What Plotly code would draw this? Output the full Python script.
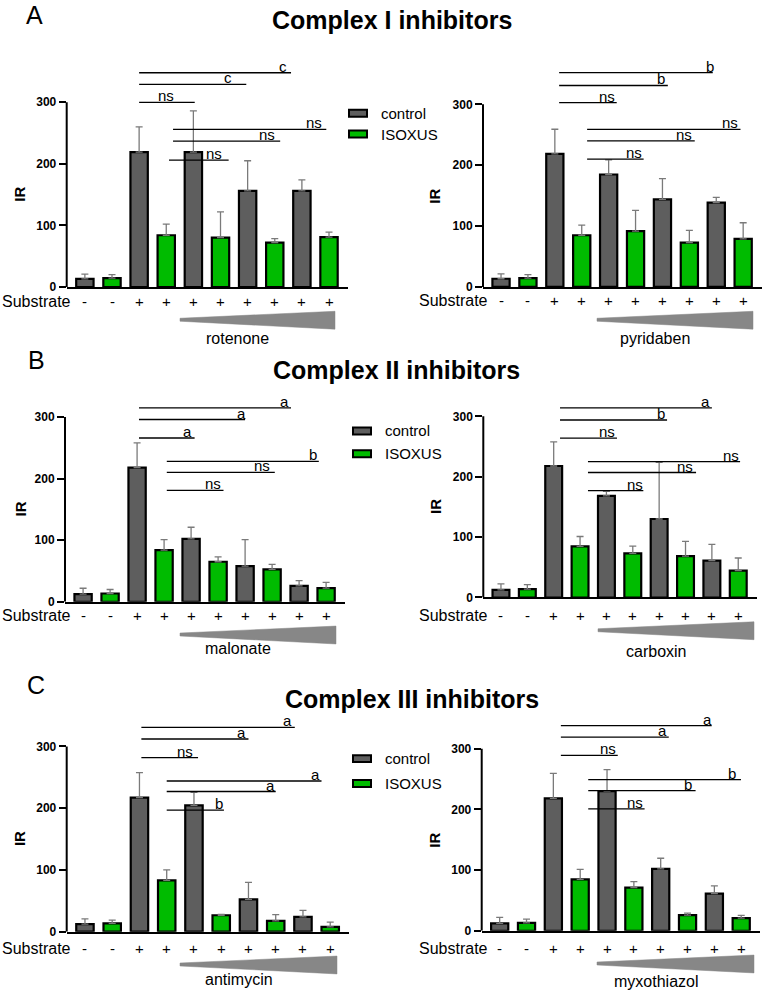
import plotly.graph_objects as go

# ---------------- data ----------------
substrate = ["-", "-", "+", "+", "+", "+", "+", "+", "+", "+"]
groups = ["control", "ISOXUS"]
inhibitors = ["rotenone", "pyridaben", "malonate", "carboxin", "antimycin", "myxothiazol"]
titles = ["Complex I inhibitors", "Complex II inhibitors", "Complex III inhibitors"]
panel_letters = ["A", "B", "C"]
y_ticks = [0, 100, 200, 300]

# IR values, bars alternate control / ISOXUS
rotenone_ir = [13, 14.5, 219, 84, 219, 80, 156, 72, 156, 81]
rotenone_err = [8, 5.5, 41, 18, 67, 42, 49, 6.5, 18, 8]
pyridaben_ir = [13.5, 14.7, 218.6, 85, 184.8, 91.8, 144, 73, 138.7, 79]
pyridaben_err = [8, 5.5, 40.5, 16.5, 24, 34, 34, 20, 8.5, 26.5]
malonate_ir = [12.4, 13.4, 218, 84, 102, 65, 58, 52.7, 25.8, 22]
malonate_err = [9.5, 6.5, 40, 17, 19, 8, 43, 8, 8.5, 9.5]
carboxin_ir = [12.7, 13.8, 217.8, 84.5, 168.4, 73, 130, 68.6, 60.9, 44.4]
carboxin_err = [10, 7.5, 40, 16.5, 7.5, 12, 94, 24.5, 27, 21]
antimycin_ir = [12.3, 13.4, 217, 83, 204.7, 26.7, 52.4, 17.7, 24, 8]
antimycin_err = [8.5, 5.5, 40.5, 17, 21, 1.5, 27.5, 10, 10.5, 7.5]
myxothiazol_ir = [12, 13, 218, 84.5, 230, 70.9, 102, 25.6, 61, 20.7]
myxothiazol_err = [10, 6, 41.5, 16.5, 35.5, 10, 17.5, 3.5, 13, 4.5]

# significance labels (top to bottom)
rotenone_sig = ["c", "c", "ns", "ns", "ns", "ns"]
pyridaben_sig = ["b", "b", "ns", "ns", "ns", "ns"]
malonate_sig = ["a", "a", "a", "b", "ns", "ns"]
carboxin_sig = ["a", "b", "ns", "ns", "ns", "ns"]
antimycin_sig = ["a", "a", "ns", "a", "a", "b"]
myxothiazol_sig = ["a", "a", "ns", "b", "b", "ns"]

ir_values = [rotenone_ir, pyridaben_ir, malonate_ir, carboxin_ir, antimycin_ir, myxothiazol_ir]
ir_errors = [rotenone_err, pyridaben_err, malonate_err, carboxin_err, antimycin_err, myxothiazol_err]
sig_labels = [rotenone_sig, pyridaben_sig, malonate_sig, carboxin_sig, antimycin_sig, myxothiazol_sig]

# ---------------- layout geometry ----------------
W, H = 764, 999
FONT = "Arial, Liberation Sans, sans-serif"
C_CTRL = "#5e5e5e"
C_ISO = "#00bb00"

# bracket geometry per panel: (x start, x end, height, label x)
sig_geom = [
    [(2.0, 7.6, 348, 7.3), (2.0, 5.95, 329, 5.27), (2.0, 4.05, 300, 3.0),
     (3.25, 8.9, 256, 8.45), (3.25, 7.2, 237, 6.7), (3.1, 5.3, 206, 4.77)],
    [(2.16, 7.87, 352, 7.76), (2.16, 6.2, 331, 5.96), (2.16, 4.3, 303, 3.94),
     (3.2, 8.9, 259, 8.5), (3.2, 7.2, 240, 6.8), (3.2, 5.3, 210, 4.94)],
    [(2.07, 7.7, 315, 7.45), (2.07, 6.0, 296, 5.86), (2.07, 4.13, 266, 3.87),
     (3.1, 8.73, 228, 8.5), (3.1, 7.1, 210, 6.64), (3.1, 5.2, 181, 4.8)],
    [(2.24, 8.0, 314, 7.77), (2.24, 6.3, 294, 6.07), (2.24, 4.4, 264, 4.02),
     (3.3, 9.07, 225, 8.72), (3.3, 7.4, 207, 6.99), (3.3, 5.4, 177, 5.1)],
    [(2.07, 7.7, 331, 7.42), (2.07, 6.0, 312, 5.76), (2.07, 4.15, 282, 3.66),
     (3.0, 8.68, 244, 8.46), (3.0, 7.0, 227, 6.8), (3.0, 5.1, 197, 4.93)],
    [(2.28, 7.9, 338, 7.75), (2.28, 6.3, 319, 6.05), (2.28, 4.4, 289, 4.05),
     (3.3, 8.99, 249, 8.64), (3.3, 7.3, 231, 7.01), (3.3, 5.4, 201, 5.06)],
]

panels = [
    dict(x0=66.7, x1=348.0, y0=289.0, k=0.620, sub=15, drug=52, wl=180, wr=335, subx=73, irx=20),
    dict(x0=483.0, x1=762.0, y0=289.0, k=0.613, sub=14, drug=52, wl=597, wr=753, subx=490, irx=435),
    dict(x0=65.0, x1=345.0, y0=606.0, k=0.620, sub=14, drug=47, wl=180, wr=336, subx=73, irx=20),
    dict(x0=483.3, x1=756.7, y0=601.7, k=0.608, sub=18, drug=54, wl=598, wr=754, subx=490, irx=436),
    dict(x0=66.7, x1=349.3, y0=938.3, k=0.622, sub=17, drug=48, wl=180, wr=337, subx=73, irx=19),
    dict(x0=481.7, x1=760.0, y0=937.3, k=0.611, sub=18, drug=51, wl=597, wr=754, subx=490, irx=435),
]
XR = [-0.67, 9.7]
YMAX = 360

title_pos = [(392, 19), (396, 372), (412, 703)]
letter_pos = [(34, 14), (36, 362), (36, 689)]
legend_pos = [(349, 379, 114, 135), (353, 383, 434, 457), (353, 383, 764, 789)]


def px(x):
    return x / W


def py(y):
    return 1 - y / H


fig = go.Figure()
shapes = []
annotations = []
layout_axes = {}

for p, g in enumerate(panels):
    n = "" if p == 0 else str(p + 1)
    xa, ya = "x" + n, "y" + n
    vals, errs = ir_values[p], ir_errors[p]
    for gi, (name, col) in enumerate(zip(groups, [C_CTRL, C_ISO])):
        idx = list(range(gi, 10, 2))
        fig.add_trace(go.Bar(
            x=idx, y=[vals[i] for i in idx], name=name,
            marker=dict(color=col, line=dict(color="black", width=2.2)),
            width=0.64,
            error_y=dict(type="data", symmetric=False,
                         array=[errs[i] for i in idx],
                         arrayminus=[0] * len(idx),
                         color="#7a7a7a", thickness=1.3, width=3.5),
            xaxis=xa, yaxis=ya, showlegend=False, hoverinfo="skip"))

    top_px = g["y0"] - YMAX * g["k"]
    layout_axes["xaxis" + n] = dict(
        domain=[px(g["x0"]), px(g["x1"])], range=XR, anchor=ya,
        showline=True, linecolor="black", linewidth=2,
        showgrid=False, zeroline=False, ticks="", showticklabels=False, fixedrange=True)
    layout_axes["yaxis" + n] = dict(
        domain=[py(g["y0"]), py(top_px)], range=[0, YMAX], anchor=xa,
        showline=False, showgrid=False, zeroline=False,
        tickvals=y_ticks, ticks="outside", ticklen=7, tickwidth=2, tickcolor="black",
        tickfont=dict(family=FONT, size=12, color="black", weight="bold"), fixedrange=True)

    # y axis line only up to 300
    shapes.append(dict(type="line", xref=xa + " domain", yref=ya, x0=0, x1=0, y0=0, y1=300,
                       line=dict(color="black", width=2)))

    # significance brackets
    for (sx0, sx1, sy, lx), lab in zip(sig_geom[p], sig_labels[p]):
        shapes.append(dict(type="line", xref=xa, yref=ya, x0=sx0, x1=sx1, y0=sy, y1=sy,
                           line=dict(color="black", width=1.3)))
        annotations.append(dict(x=lx, y=sy, xref=xa, yref=ya, text=lab, showarrow=False,
                                yanchor="bottom", xanchor="center", yshift=-4,
                                font=dict(family=FONT, size=15, color="black")))

    # substrate row
    sub_y = py(g["y0"] + g["sub"])
    for i, s in enumerate(substrate):
        annotations.append(dict(x=i, y=sub_y, xref=xa, yref="paper", text=s, showarrow=False,
                                xanchor="center", yanchor="middle",
                                font=dict(family=FONT, size=15, color="black")))
    annotations.append(dict(x=px(g["subx"]), y=sub_y, xref="paper", yref="paper", text="Substrate",
                            showarrow=False, xanchor="right", yanchor="middle",
                            font=dict(family=FONT, size=16, color="black")))

    # wedge for increasing inhibitor concentration
    y0 = g["y0"]
    path = (f"M {px(g['wl'])},{py(y0 + 31.5)} L {px(g['wr'])},{py(y0 + 24.5)} "
            f"L {px(g['wr'])},{py(y0 + 42.5)} L {px(g['wl'])},{py(y0 + 34.5)} Z")
    shapes.append(dict(type="path", xref="paper", yref="paper", path=path,
                       fillcolor="#878787", line=dict(color="#878787", width=0.5)))
    annotations.append(dict(x=px((g["wl"] + g["wr"]) / 2 - 20), y=py(y0 + g["drug"]),
                            xref="paper", yref="paper", text=inhibitors[p], showarrow=False,
                            xanchor="center", yanchor="middle",
                            font=dict(family=FONT, size=16, color="black")))

    # IR axis label
    annotations.append(dict(x=px(g["irx"]), y=150, xref="paper", yref=ya, text="<b>IR</b>",
                            textangle=-90, showarrow=False, xanchor="center", yanchor="middle",
                            font=dict(family=FONT, size=15, color="black")))

# titles, letters, legends
for r in range(3):
    tx, ty = title_pos[r]
    annotations.append(dict(x=px(tx), y=py(ty + 1), xref="paper", yref="paper",
                            text="<b>" + titles[r] + "</b>", showarrow=False,
                            xanchor="center", yanchor="middle",
                            font=dict(family=FONT, size=25, color="black")))
    lx, ly = letter_pos[r]
    annotations.append(dict(x=px(lx), y=py(ly + 1), xref="paper", yref="paper",
                            text=panel_letters[r], showarrow=False,
                            xanchor="center", yanchor="middle",
                            font=dict(family=FONT, size=25, color="black")))
    rx, tx2, y1, y2 = legend_pos[r]
    for yy, name, col in [(y1, groups[0], C_CTRL), (y2, groups[1], C_ISO)]:
        shapes.append(dict(type="rect", xref="paper", yref="paper",
                           x0=px(rx), x1=px(rx + 18), y0=py(yy - 3.5), y1=py(yy + 3.5),
                           fillcolor=col, line=dict(color="black", width=2)))
        annotations.append(dict(x=px(tx2), y=py(yy), xref="paper", yref="paper", text=name,
                                showarrow=False, xanchor="left", yanchor="middle",
                                font=dict(family=FONT, size=15, color="black")))

fig.update_layout(
    width=W, height=H, margin=dict(l=0, r=0, t=0, b=0),
    paper_bgcolor="white", plot_bgcolor="white",
    showlegend=False, barmode="overlay",
    shapes=shapes, annotations=annotations,
    font=dict(family=FONT, color="black"),
    **layout_axes)

fig.write_html("out.html", config={"displayModeBar": False})
